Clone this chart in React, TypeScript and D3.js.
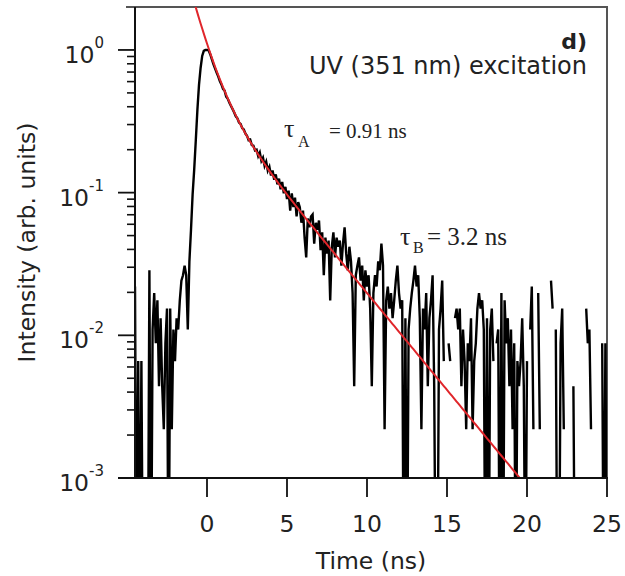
import React from "react";
import * as d3 from "d3";

// Time-correlated photon counting histogram, 0.1 ns channels starting at -4.5 ns.
const channelStart = -4.5;
const channelWidth = 0.1;

// Counts before and during the excitation pulse (-4.5 .. -0.1 ns)
const riseCounts: number[] = [
  10, 0, 3, 0, 3, 0, 0, 0, 0, 13,
  0, 5, 9, 4, 8, 2, 6, 2, 1, 4,
  7, 0, 7, 1, 5, 3, 6, 5, 8, 11,
  12, 14, 12, 5, 15, 25, 44, 66, 106, 173,
  259, 340, 413, 448, 455,
];

// Counts along the main decay (0 .. 5.7 ns)
const decayCounts: number[] = [
  455, 452, 425, 392, 362, 338, 316, 297, 275, 261,
  243, 236, 214, 207, 194, 184, 175, 166, 156, 151,
  141, 138, 129, 126, 118, 114, 106, 107, 98, 97,
  90, 91, 82, 87, 76, 80, 70, 75, 65, 69,
  60, 65, 56, 61, 52, 57, 48, 54, 45, 50,
  41, 47, 34, 45, 36, 42, 31, 39,
];

// Counts in the noisy tail (5.8 .. 25 ns); null marks channels left out of the trace
const tailCounts: (number | null)[] = [
  36, 28, 34, 22, 16, 30, 26, 31, 32, 20,
  28, 25, 29, 18, 24, 12, 22, 17, 21, 8,
  19, 24, 16, 22, 19, 21, 14, 20, 26, 17,
  13, 19, 15, 9, 2, 12, 14, 16, 11, 14,
  8, 13, 10, 12, 7, 2, 9, 12, 10, 15,
  13, 20, 14, 1, 8, 10, 7, 9, 6, 8,
  11, 14, 9, 7, 8, 0, 6, 0, 5, 7,
  9, 11, 14, 10, 12, 6, 1, 7, 5, 9,
  2, 6, 8, 12, 2, 0, 0, 5, 7, 11,
  3, null, null, 4, 3, null, null, 6, 7, 5,
  7, 2, 5, 3, 1, 4, 3, 6, 1, 3,
  4, 7, 9, 7, 8, 5, 0, 6, 0, 5,
  7, 3, null, 4, 5, 0, 9, 0, 8, 4,
  6, 2, 5, 1, 4, 0, 3, 2, 3, 6,
  2, 0, 3, null, 5, 10, 1, null, null, 9,
  1, null, null, null, null, null, null, 11, 7, null,
  5, 0, 0, 4, 7, 1, null, null, null, null,
  null, 2, 0, null, null, null, null, null, null, 7,
  4, 5, 1, null, null, null, null, null, null, 4,
  0, 4, 0,
];

const peakCount = 455;

// Bi-exponential fit
const tauA = 0.91;
const tauB = 3.2;
const ampA = 0.66;
const ampB = 0.45;

const xTicks = [0, 5, 10, 15, 20, 25];
const yDecades = [-3, -2, -1, 0];
const yMinorFactors = [2, 3, 4, 5, 6, 7, 8, 9];

const W = 625;
const H = 576;
const left = 135;
const right = 607;
const top = 7;
const bottom = 478;

const sans = "'DejaVu Sans', sans-serif";
const serif = "'Liberation Serif', 'Times New Roman', serif";

type Pt = { t: number; v: number | null };

export default function App() {
  const x = d3.scaleLinear().domain([-4.5, 25]).range([left, right]);
  const y = d3.scaleLog().domain([1e-3, 2]).range([bottom, top]);

  const counts = [...riseCounts, ...decayCounts, ...tailCounts];
  const trace: Pt[] = counts.map((c, i) => ({
    t: channelStart + i * channelWidth,
    v: c === null ? null : c / peakCount,
  }));

  const line = d3
    .line<Pt>()
    .defined((d) => d.v !== null)
    .x((d) => x(d.t))
    .y((d) => y(Math.max(d.v as number, 1e-4)));

  const fitPts: Pt[] = trace
    .filter((d) => d.t >= -1)
    .map((d) => ({
      t: d.t,
      v: ampA * Math.exp(-d.t / tauA) + ampB * Math.exp(-d.t / tauB),
    }));

  const minorTicks: number[] = [];
  yDecades.slice(0, -1).forEach((e) =>
    yMinorFactors.forEach((m) => minorTicks.push(m * Math.pow(10, e)))
  );

  const textColor = "#222";

  return (
    <svg
      width={W}
      height={H}
      style={{ position: "absolute", left: 0, top: 0, background: "#fff" }}
    >
      <defs>
        <clipPath id="plot-area">
          <rect x={left} y={top} width={right - left} height={bottom - top} />
        </clipPath>
      </defs>
      <rect x={0} y={0} width={W} height={H} fill="#fff" />

      {/* frame */}
      <line x1={126} x2={right + 1} y1={top} y2={top} stroke="#555" strokeWidth={2} />
      <line x1={right} x2={right} y1={top} y2={bottom} stroke="#555" strokeWidth={2} />

      {/* data */}
      <g clipPath="url(#plot-area)">
        <path d={line(trace) || ""} fill="none" stroke="#000" strokeWidth={2.4} strokeLinejoin="miter" />
        <path d={line(fitPts) || ""} fill="none" stroke="#e0262b" strokeWidth={2} />
      </g>

      {/* y axis */}
      <line x1={left} x2={left} y1={top} y2={bottom} stroke="#111" strokeWidth={2} />
      {minorTicks.map((v) => (
        <line key={"m" + v} x1={127} x2={left} y1={y(v)} y2={y(v)} stroke="#111" strokeWidth={1.6} />
      ))}
      {yDecades.map((e) => (
        <g key={"d" + e}>
          <line x1={118} x2={left} y1={y(Math.pow(10, e))} y2={y(Math.pow(10, e))} stroke="#111" strokeWidth={1.8} />
          <text
            x={104}
            y={y(Math.pow(10, e)) + 13}
            textAnchor="end"
            fontFamily={sans}
            fontSize={23.5}
            fill={textColor}
          >
            10
            <tspan dy={-15} fontSize={15}>
              {e === 0 ? "0" : "-" + Math.abs(e)}
            </tspan>
          </text>
        </g>
      ))}
      <text
        transform={`translate(35, ${(top + bottom) / 2}) rotate(-90)`}
        textAnchor="middle"
        fontFamily={sans}
        fontSize={23.5}
        fill={textColor}
      >
        Intensity (arb. units)
      </text>

      {/* x axis */}
      <line x1={118} x2={right + 1} y1={bottom} y2={bottom} stroke="#111" strokeWidth={2} />
      {xTicks.map((t) => (
        <g key={"x" + t}>
          <line x1={x(t)} x2={x(t)} y1={bottom} y2={497} stroke="#111" strokeWidth={1.8} />
          <text x={x(t)} y={532} textAnchor="middle" fontFamily={sans} fontSize={23.5} fill={textColor}>
            {t}
          </text>
        </g>
      ))}
      <text x={(left + right) / 2} y={569} textAnchor="middle" fontFamily={sans} fontSize={23.5} fill={textColor}>
        Time (ns)
      </text>

      {/* annotations */}
      <text x={587} y={49} textAnchor="end" fontFamily={sans} fontWeight="bold" fontSize={22} fill={textColor}>
        d)
      </text>
      <text x={587} y={74} textAnchor="end" fontFamily={sans} fontSize={24} fill={textColor}>
        UV (351 nm) excitation
      </text>

      <text x={284} y={137} fontFamily={serif} fontSize={26} fill={textColor}>
        τ
      </text>
      <text x={298} y={147} fontFamily={serif} fontSize={16} fill={textColor}>
        A
      </text>
      <text x={329} y={138} fontFamily={serif} fontSize={21} fill={textColor}>
        = {tauA.toFixed(2)} ns
      </text>

      <text x={400} y={245} fontFamily={serif} fontSize={26} fill={textColor}>
        τ
      </text>
      <text x={413} y={253} fontFamily={serif} fontSize={16} fill={textColor}>
        B
      </text>
      <text x={427} y={245} fontFamily={serif} fontSize={25} fill={textColor}>
        = {tauB.toFixed(1)} ns
      </text>
    </svg>
  );
}
